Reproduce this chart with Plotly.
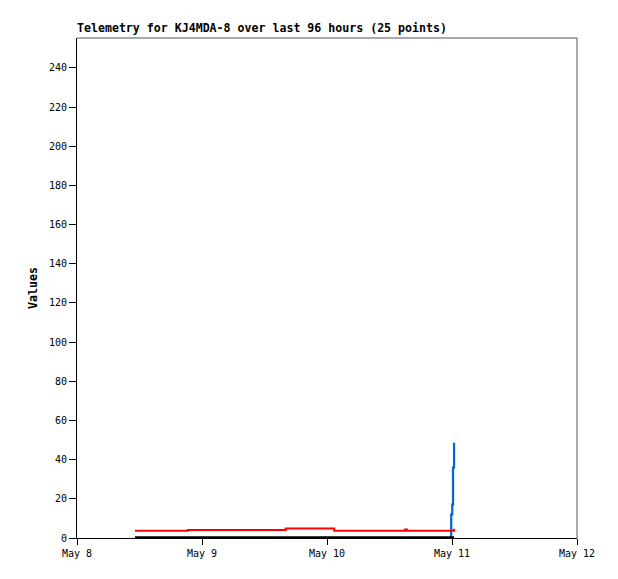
import plotly.graph_objects as go
from datetime import datetime, timedelta

# ---- data ----
base = datetime(2025, 5, 8)
hours = [11.13, 14.5, 18.0, 21.25, 25.0, 29.0, 33.0, 37.0, 40.07, 44.5,
         47.0, 49.4, 53.0, 57.0, 60.5, 62.98, 63.36, 66.0, 68.5, 70.5,
         71.6, 71.85, 72.05, 72.2, 72.4]
times = [base + timedelta(hours=h) for h in hours]

red_values = [3.7, 3.7, 3.7, 4.1, 4.1, 4.1, 4.1, 4.1, 4.9, 4.9,
              4.9, 3.7, 3.7, 3.7, 3.7, 4.4, 3.7, 3.7, 3.7, 3.7,
              3.7, 3.7, 3.7, 3.7, 4.7]
black_values = [0] * 25
blue_values = [None] * 20 + [0, 12, 17, 36, 48.6]

x_ticks = [datetime(2025, 5, d) for d in (8, 9, 10, 11, 12)]
x_ticklabels = ["May 8", "May 9", "May 10", "May 11", "May 12"]
y_ticks = list(range(0, 241, 20))

title_text = "Telemetry for KJ4MDA-8 over last 96 hours (25 points)"
y_title = "Values"

MONO = "DejaVu Sans Mono"

# the page body adds an 8px offset, so the figure is 8px smaller on each axis
W, H = 610, 571

fig = go.Figure()
fig.add_trace(go.Scatter(x=times, y=blue_values, mode="lines", line=dict(color="#0066cc", width=2.2, shape="hv"),
                         connectgaps=False, showlegend=False))
fig.add_trace(go.Scatter(x=times, y=red_values, mode="lines", line=dict(color="#ff0000", width=2, shape="hv"),
                         showlegend=False))
fig.add_trace(go.Scatter(x=times, y=black_values, mode="lines", line=dict(color="#000000", width=3.5, shape="hv"),
                         showlegend=False))

fig.update_layout(
    width=W, height=H,
    margin=dict(l=69, r=41, t=30, b=41),
    plot_bgcolor="white", paper_bgcolor="white",
    title=dict(text="<b>" + title_text + "</b>", x=69 / W, xanchor="left", xref="container",
               y=1 - 20 / H, yanchor="middle", yref="container", automargin=False,
               font=dict(family=MONO, size=11.6, color="black")),
    font=dict(family=MONO, size=10, color="black"),
    xaxis=dict(range=[x_ticks[0], x_ticks[-1]], tickvals=x_ticks, ticktext=x_ticklabels,
               automargin=False,
               showgrid=False, zeroline=False, showline=True, linecolor="black", linewidth=1,
               ticks="outside", ticklen=6, tickcolor="black", tickwidth=1,
               tickfont=dict(family=MONO, size=10, color="black")),
    yaxis=dict(range=[0, 255.3], tickvals=y_ticks, showgrid=False, zeroline=False,
               automargin=False,
               showline=True, linecolor="black", linewidth=1,
               ticks="outside", ticklen=7, tickcolor="black", tickwidth=1,
               tickfont=dict(family=MONO, size=10, color="black"),
               title=dict(text="<b>" + y_title + "</b>", standoff=8,
                          font=dict(family=MONO, size=11.6, color="black"))),
    shapes=[
        dict(type="line", xref="paper", yref="paper", x0=0, x1=1, y0=1, y1=1,
             line=dict(color="#555555", width=1)),
        dict(type="line", xref="paper", yref="paper", x0=1, x1=1, y0=0, y1=1,
             line=dict(color="#555555", width=1)),
    ],
)

fig.write_html("out.html")
